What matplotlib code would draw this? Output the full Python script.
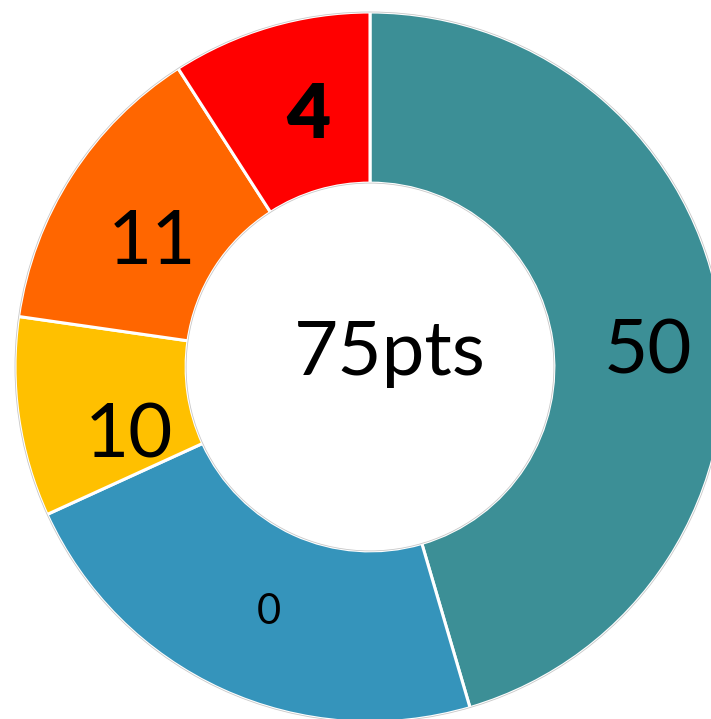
import matplotlib.pyplot as plt
from matplotlib.patches import Circle

# slice sizes (max points per part) and the scores shown on them
sizes = [50, 25, 10, 15, 10]
scores = ['50', '0', '10', '11', '4']
colours = ['#3C8F96', '#3594BB', '#FFC000', '#FF6600', '#FF0000']
total_label = '75pts'

font_sizes = [55, 30, 55, 55, 55]
font_weights = ['normal', 'normal', 'normal', 'normal', 'heavy']
# label centres in pixels of the 711x719 canvas (x from left, y from top)
label_px = [(648, 345), (269, 608), (129, 430), (152, 236), (308, 110)]
total_px = (390, 347)

CX, CY, R = 370, 367, 355  # donut centre and radius, pixels


def to_data(p):
    return (p[0] - CX) / R, (CY - p[1]) / R


plt.rcParams['font.family'] = ['Lato', 'DejaVu Sans']

fig = plt.figure(figsize=(7.11, 7.19), dpi=100)
ax = fig.add_axes([0, 0, 1, 1])

wedges, _ = ax.pie(sizes, colors=colours, startangle=90, counterclock=False,
                   radius=1.0, wedgeprops=dict(width=0.482, edgecolor='white', linewidth=2.2))

# faint grey rim like the original
ax.add_patch(Circle((0, 0), 1.0, fill=False, ec='#c8c8c8', lw=0.6, zorder=3))
ax.add_patch(Circle((0, 0), 0.518, fill=False, ec='#c8c8c8', lw=0.6, zorder=3))

for s, fs, fw, p in zip(scores, font_sizes, font_weights, label_px):
    x, y = to_data(p)
    ax.text(x, y, s, fontsize=fs, fontweight=fw, ha='center', va='center_baseline', color='black')

x, y = to_data(total_px)
ax.text(x, y, total_label, fontsize=55, ha='center', va='center_baseline', color='black')

ax.set_xlim(-CX / R, (711 - CX) / R)
ax.set_ylim(-(719 - CY) / R, CY / R)
ax.set_aspect('equal')
ax.axis('off')

fig.savefig('out.png', dpi=100)
